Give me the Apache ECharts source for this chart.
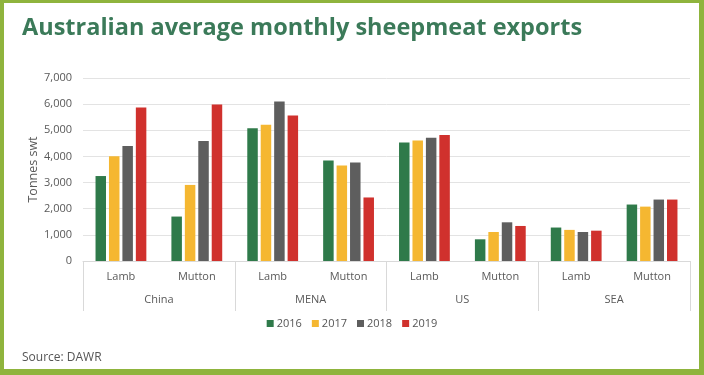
<!DOCTYPE html>
<html>
<head>
<meta charset="utf-8">
<script src="https://cdn.jsdelivr.net/npm/echarts@6/dist/echarts.min.js"></script>
<style>
  html, body { margin: 0; padding: 0; background: #fff; }
  #main { width: 704px; height: 375px; }
</style>
</head>
<body>
<div id="main"></div>
<script>
// data
var products = ['Lamb', 'Mutton', 'Lamb', 'Mutton', 'Lamb', 'Mutton', 'Lamb', 'Mutton'];
var markets = ['China', 'MENA', 'US', 'SEA'];
var years = ['2016', '2017', '2018', '2019'];
var y2016 = [3250, 1700, 5080, 3840, 4530, 830, 1280, 2160];
var y2017 = [4010, 2910, 5210, 3650, 4610, 1110, 1190, 2080];
var y2018 = [4400, 4590, 6100, 3770, 4710, 1480, 1110, 2350];
var y2019 = [5870, 5990, 5570, 2430, 4820, 1340, 1160, 2350];
var colors = ['#2f7a4a', '#f5b731', '#5e5e5e', '#d0312d'];

var myChart = echarts.init(document.getElementById('main'));

var seriesData = [y2016, y2017, y2018, y2019];
var series = [];
for (var i = 0; i < years.length; i++) {
    series.push({
        name: years[i],
        type: 'bar',
        data: seriesData[i],
        barWidth: 10.5,
        barGap: '28%',
        itemStyle: { color: colors[i] }
    });
}

var option = {
    backgroundColor: '#fff',
    textStyle: { fontFamily: 'Open Sans' },
    title: [{
        text: 'Australian average monthly sheepmeat exports',
        left: 17,
        top: 11,
        textStyle: { color: '#3b7a59', fontSize: 23.5, fontWeight: 'bold', fontFamily: 'Open Sans' }
    }, {
        text: 'Source: DAWR',
        left: 17,
        top: 347,
        textStyle: { color: '#555', fontSize: 12, fontWeight: 'normal', fontFamily: 'Open Sans' }
    }],
    legend: {
        data: years,
        top: 313,
        left: 'center',
        itemWidth: 7,
        itemHeight: 7,
        itemGap: 10,
        icon: 'rect',
        textStyle: { color: '#555', fontSize: 11, padding: [0, 0, 0, -2] }
    },
    grid: { left: 83, right: 14, top: 78, bottom: 114 },
    xAxis: [{
        type: 'category',
        data: products,
        axisLine: { lineStyle: { color: '#d9d9d9' } },
        axisTick: { show: false },
        axisLabel: { color: '#595959', fontSize: 11, margin: 10 }
    }, {
        type: 'category',
        data: markets,
        position: 'bottom',
        axisLine: { show: false },
        axisTick: { show: true, length: 50, lineStyle: { color: '#d9d9d9' } },
        axisLabel: { color: '#595959', fontSize: 11, margin: 33 }
    }],
    yAxis: {
        type: 'value',
        min: 0,
        max: 7000,
        interval: 1000,
        name: 'Tonnes swt',
        nameLocation: 'middle',
        nameGap: 43,
        nameMoveOverlap: false,
        nameTextStyle: { color: '#595959', fontSize: 12.5 },
        axisLabel: {
            color: '#595959',
            fontSize: 11,
            margin: 11,
            formatter: function (v) { return v.toLocaleString('en-US'); }
        },
        splitLine: { lineStyle: { color: '#e3e3e3' } }
    },
    graphic: [
        { type: 'rect', shape: { x: 0, y: 0, width: 704, height: 3 }, style: { fill: '#8fb43d' } },
        { type: 'rect', shape: { x: 0, y: 0, width: 4, height: 375 }, style: { fill: '#8fb43d' } },
        { type: 'rect', shape: { x: 699, y: 0, width: 5, height: 375 }, style: { fill: '#8fb43d' } },
        { type: 'rect', shape: { x: 0, y: 369, width: 704, height: 6 }, style: { fill: '#8fb43d' } }
    ],
    series: series
};

myChart.setOption(option);

window.addEventListener('resize', function () {
    myChart.resize();
});
</script>
</body>
</html>
